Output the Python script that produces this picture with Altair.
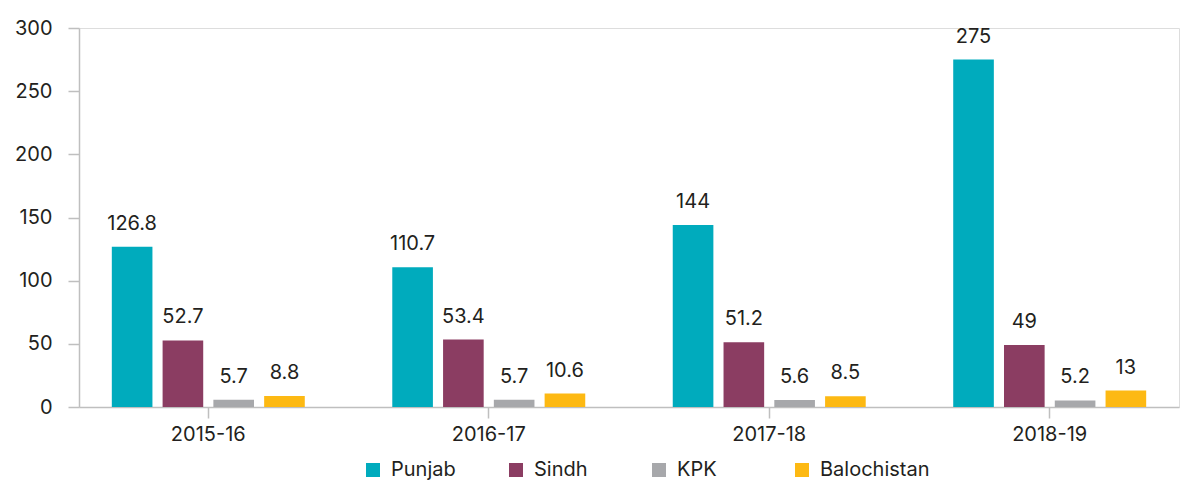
import altair as alt
import pandas as pd

years = ["2015-16", "2016-17", "2017-18", "2018-19"]
provinces = ["Punjab", "Sindh", "KPK", "Balochistan"]
punjab = [126.8, 110.7, 144, 275]
sindh = [52.7, 53.4, 51.2, 49]
kpk = [5.7, 5.7, 5.6, 5.2]
balochistan = [8.8, 10.6, 8.5, 13]
colors = ["#00ABBD", "#8B3D62", "#A7A8AB", "#FDB913"]

rows = []
for series_name, vals in zip(provinces, [punjab, sindh, kpk, balochistan]):
    for y, v in zip(years, vals):
        rows.append({"year": y, "province": series_name, "value": v,
                     "label": f"{v:g}"})
df = pd.DataFrame(rows)

FONT = "Inter"
TXT = "#231F20"

base = alt.Chart(df).encode(
    x=alt.X("year:N", sort=years,
            scale=alt.Scale(paddingInner=0.312, paddingOuter=0.117),
            axis=alt.Axis(title=None, labelAngle=0, domainColor="#BFBFBF",
                          domainWidth=1.5, tickColor="#BFBFBF", tickWidth=1.5,
                          tickSize=11, labelPadding=6, labelFontSize=20,
                          labelFont=FONT, labelColor=TXT, grid=False)),
    xOffset=alt.XOffset("province:N", sort=provinces,
                        scale=alt.Scale(paddingInner=0.2, paddingOuter=0)),
)

bars = base.mark_bar().encode(
    y=alt.Y("value:Q", scale=alt.Scale(domain=[0, 300], nice=False),
            axis=alt.Axis(title=None, values=[0, 50, 100, 150, 200, 250, 300],
                          domainColor="#BFBFBF", domainWidth=1.5,
                          tickColor="#BFBFBF", tickWidth=1.5, tickSize=11,
                          labelPadding=16, labelFontSize=20, labelFont=FONT,
                          labelColor=TXT, grid=False)),
    color=alt.Color("province:N", sort=provinces,
                    scale=alt.Scale(domain=provinces, range=colors),
                    legend=alt.Legend(title=None, orient="none", direction="horizontal",
                                      legendX=284, legendY=432, gridAlign="all",
                                      symbolType="square", symbolSize=196,
                                      symbolStrokeWidth=0, columnPadding=5,
                                      labelFontSize=20, labelFont=FONT,
                                      labelColor=TXT, labelOffset=8)),
)

labels = base.mark_text(baseline="alphabetic", dy=-17, fontSize=20,
                        font=FONT, color=TXT).encode(
    y=alt.Y("value:Q"),
    text="label:N",
)

chart = (bars + labels).properties(
    width=1100, height=379,
    padding={"left": 71, "top": 20, "right": 2, "bottom": 74},
    autosize=alt.AutoSizeParams(type="none"),
).configure_view(stroke=None).configure(background="white")

chart.save("out.html", embed_options={"renderer": "svg", "actions": False})
